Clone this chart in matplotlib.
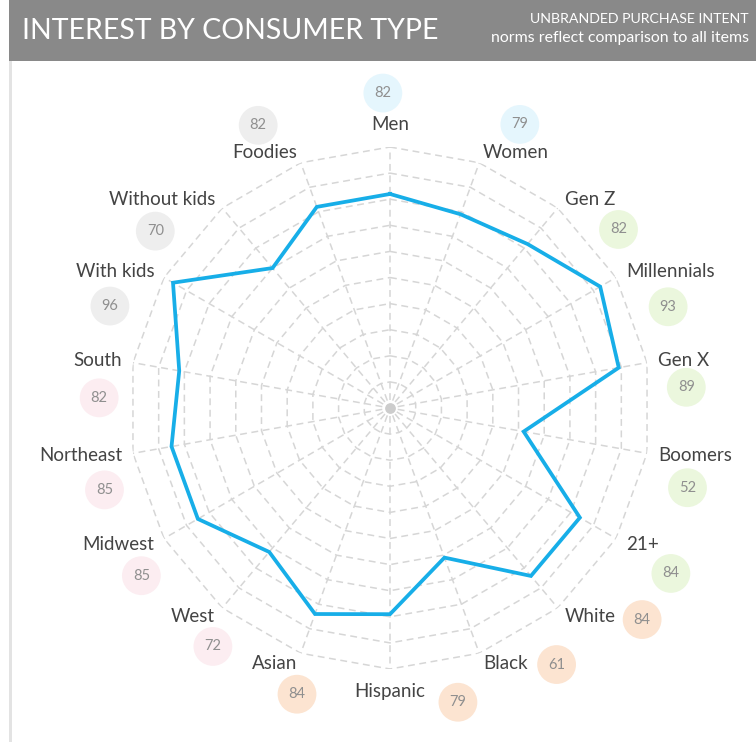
import matplotlib.pyplot as plt
import numpy as np
from matplotlib.patches import Rectangle

plt.rcParams["font.family"] = ["Lato", "DejaVu Sans"]

# chart data, clockwise from the top
categories = [
    "Men", "Women", "Gen Z", "Millennials", "Gen X", "Boomers", "21+",
    "White", "Black", "Hispanic", "Asian", "West", "Midwest", "Northeast",
    "South", "With kids", "Without kids", "Foodies",
]
values = [82, 79, 82, 93, 89, 52, 84, 84, 61, 79, 84, 72, 85, 85, 82, 96, 70, 82]
groups = [
    "gender", "gender", "age", "age", "age", "age", "age",
    "ethnicity", "ethnicity", "ethnicity", "ethnicity",
    "region", "region", "region", "region",
    "lifestyle", "lifestyle", "lifestyle",
]
grid_levels = [10, 20, 30, 40, 50, 60, 70, 80, 90, 100]

# layout: where each value bubble sits (angle in degrees, radius in axis units)
bubble_angle = [-1.3, 24.6, 52, 70, 86, 105, 120.5, 130, 147, 167, 198,
                216.6, 236, 254, 272, 290, 307, 335]
bubble_radius = [120.7, 119.5, 111.1, 113.4, 113.8, 118.0, 124.9, 126.1, 117.2,
                 115.7, 115.3, 113.8, 114.9, 113.8, 111.5, 114.2, 112.6, 119.5]

group_colors = {
    "gender": "#e5f6fd",
    "age": "#ebf7dd",
    "ethnicity": "#fce4d1",
    "region": "#fcedf1",
    "lifestyle": "#eeeeee",
}

W, H = 756, 742
cx, cy, R = 390, 408, 261

fig = plt.figure(figsize=(W / 100, H / 100), dpi=100)
fig.patch.set_facecolor("white")

# header band and panel border
fig.add_artist(Rectangle((9 / W, 1 - 61 / H), (W - 9) / W, 61 / H,
                         transform=fig.transFigure, color="#898989", lw=0))
fig.add_artist(Rectangle((9 / W, 0), 2.5 / W, 1 - 61 / H,
                         transform=fig.transFigure, color="#e3e3e3", lw=0))
fig.text(22 / W, 1 - 31 / H, "INTEREST BY CONSUMER TYPE", color="white",
         fontsize=20.5, va="center", ha="left")
fig.text(749 / W, 1 - 19 / H, "UNBRANDED PURCHASE INTENT", color="white",
         fontsize=10.2, va="center", ha="right")
fig.text(749 / W, 1 - 38 / H, "norms reflect comparison to all items",
         color="white", fontsize=11.4, va="center", ha="right")

ax = fig.add_axes([(cx - R) / W, (H - cy - R) / H, 2 * R / W, 2 * R / H],
                  projection="polar")
ax.set_theta_zero_location("N")
ax.set_theta_direction(-1)
ax.set_ylim(0, 100)
ax.set_axis_off()

n = len(categories)
theta = np.deg2rad(np.arange(n) * 360 / n)
theta_closed = np.append(theta, theta[0])

# polygon grid
grid_color = "#d6d6d6"
dash = (0, (4.5, 3))
for level in grid_levels:
    ax.plot(theta_closed, [level] * (n + 1), color=grid_color, lw=1.1,
            ls=dash, zorder=1)
for t in theta:
    ax.plot([t, t], [3, 100], color=grid_color, lw=1.1, ls=dash, zorder=1)
ax.scatter([0], [0], s=45, color="#cccccc", zorder=2)

# data line
ax.plot(theta_closed, np.append(values, values[0]), color="#17aee8", lw=2.7,
        zorder=3, solid_joinstyle="miter")

# category labels
for t, name in zip(theta, categories):
    s = np.sin(t)
    if abs(s) < 1e-6:
        ha, r = "center", 108.8
    else:
        ha, r = ("left" if s > 0 else "right"), 104.3
    ax.text(t, r, name, ha=ha, va="center", fontsize=13.5, color="#444444",
            clip_on=False)

# value bubbles
bt = np.deg2rad(bubble_angle)
ax.scatter(bt, bubble_radius, s=780, color=[group_colors[g] for g in groups],
           clip_on=False, zorder=2, linewidths=0)
for t, r, v in zip(bt, bubble_radius, values):
    ax.text(t, r, str(v), ha="center", va="center", fontsize=10.5,
            color="#8f8f8f", clip_on=False, zorder=4)

fig.savefig("out.png", dpi=100)
